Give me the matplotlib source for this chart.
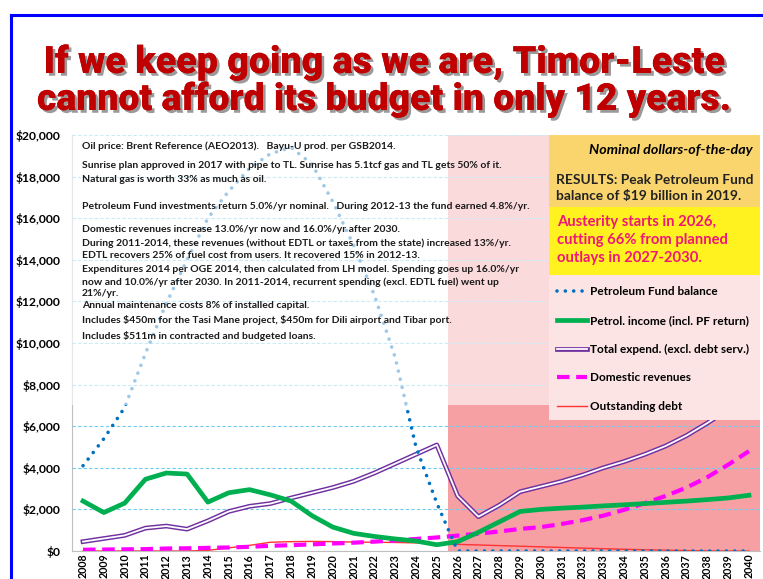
import matplotlib
matplotlib.use("Agg")
import matplotlib.pyplot as plt
import matplotlib.patheffects as pe
from matplotlib.patches import Rectangle
from matplotlib.lines import Line2D
from matplotlib.ticker import FuncFormatter, MultipleLocator

plt.rcParams["text.parse_math"] = False

years = list(range(2008, 2041))

pf_balance = [4100, 5400, 6900, 9500, 11900, 14000, 16000, 17300, 18400, 19100, 19400, 18600,
              16800, 14700, 12300, 9300, 5000, 2300, 0, 0, 0, 0, 0, 0,
              0, 0, 0, 0, 0, 0, 0, 0, 0]
petrol_income = [2400, 1850, 2300, 3450, 3750, 3700, 2350, 2800, 2950, 2700, 2400, 1700,
                 1150, 850, 700, 580, 480, 300, 450, 900, 1400, 1900, 2000, 2060,
                 2110, 2170, 2220, 2280, 2340, 2400, 2470, 2550, 2680]
total_expend = [450, 600, 750, 1100, 1200, 1050, 1450, 1900, 2150, 2280, 2550, 2800,
                3050, 3350, 3750, 4200, 4650, 5100, 2650, 1650, 2200, 2850, 3100, 3350,
                3650, 4000, 4300, 4650, 5050, 5550, 6150, 6800, 7450]
domestic_rev = [60, 70, 80, 90, 120, 130, 150, 170, 200, 250, 280, 320,
                360, 400, 450, 510, 580, 650, 740, 830, 940, 1060, 1150, 1300,
                1480, 1700, 1980, 2300, 2650, 3050, 3550, 4150, 4800]
debt = [0, 0, 0, 0, 0, 0, 30, 150, 270, 420, 450, 460,
        450, 430, 420, 410, 390, 350, 320, 290, 260, 230, 200, 170,
        140, 110, 85, 60, 40, 20, 10, 0, 0]

notes = [
    (146, "Oil price: Brent Reference (AEO2013).   Bayu-U prod. per GSB2014."),
    (166, "Sunrise plan approved in 2017 with pipe to TL. Sunrise has 5.1tcf gas and TL gets 50% of it."),
    (180, "Natural gas is worth 33% as much as oil."),
    (206, "Petroleum Fund investments return 5.0%/yr nominal.   During 2012-13 the fund earned 4.8%/yr."),
    (230, "Domestic revenues increase 13.0%/yr now and 16.0%/yr after 2030."),
    (243, "During 2011-2014, these revenues (without EDTL or taxes from the state) increased 13%/yr."),
    (255, "EDTL recovers 25% of fuel cost from users. It recovered 15% in 2012-13."),
    (270, "Expenditures 2014 per OGE 2014, then calculated from LH model. Spending goes up 16.0%/yr"),
    (282, "now and 10.0%/yr after 2030. In 2011-2014, recurrent spending (excl. EDTL fuel) went up"),
    (294, "21%/yr."),
    (305, "Annual maintenance costs 8% of installed capital."),
    (320, "Includes $450m for the Tasi Mane project, $450m for Dili airport and Tibar port."),
    (336, "Includes $511m in contracted and budgeted loans."),
]

W, H = 763, 579
fig = plt.figure(figsize=(W / 100, H / 100), dpi=100)
fig.patch.set_facecolor("white")

def fx(x):
    return x / W

def fy(y):
    return 1 - y / H

# blue frame
fig.add_artist(Line2D([fx(11), fx(11)], [fy(15), 0], color="#0000FF", lw=2.2))
fig.add_artist(Line2D([fx(11), 1], [fy(15), fy(15)], color="#0000FF", lw=2.2))

# title, sized to fit the width of the original
shadow = [pe.withSimplePatchShadow(offset=(2, -2), shadow_rgbFace="#707070", alpha=0.7), pe.Normal()]
renderer = fig.canvas.get_renderer()
for yy, txt, target in [(62, "If we keep going as we are, Timor-Leste", 682),
                        (100, "cannot afford its budget in only 12 years.", 695)]:
    t = fig.text(fx(384), fy(yy), txt, ha="center", va="center", fontsize=24,
                 fontweight="heavy", family="Roboto", color="#C00000", path_effects=shadow)
    w = t.get_window_extent(renderer).width
    t.set_fontsize(24 * target / w)

ax = fig.add_axes([fx(72), fy(551), (760 - 72) / W, (551 - 135) / H])
ax.set_xlim(2007.47, 2040.53)
ax.set_ylim(0, 20000)

# austerity shading
ax.add_patch(Rectangle((2025.54, 0), 2040.53 - 2025.54, 20000, facecolor="#F7A0A4",
                       edgecolor="none", zorder=0))

ax.yaxis.set_major_locator(MultipleLocator(2000))
ax.yaxis.set_major_formatter(FuncFormatter(lambda v, p: "${:,.0f}".format(v)))
ax.set_xticks(years)
ax.set_xticklabels([str(y) for y in years], rotation=90)
ax.grid(axis="y", color="#6FCBEF", ls=(0, (3, 2)), lw=0.8, zorder=1)
ax.set_axisbelow(False)
for s in ["top", "right"]:
    ax.spines[s].set_visible(False)
ax.spines["left"].set_color("#BFBFBF")
ax.spines["bottom"].set_color("#BFBFBF")
ax.tick_params(axis="y", length=0, pad=8)
ax.tick_params(axis="x", length=0, pad=2)
for lab in ax.get_yticklabels():
    lab.set_fontweight("bold")
    lab.set_fontsize(8.7)
    lab.set_family("Lato")
for lab in ax.get_xticklabels():
    lab.set_fontweight("bold")
    lab.set_fontsize(7.7)
    lab.set_family("Lato")

double = [pe.Stroke(linewidth=3.4, foreground="#7030A0"), pe.Stroke(linewidth=1.3, foreground="white")]

ax.plot(years, debt, color="#FF3333", lw=1.0, zorder=2)
ax.plot(years, domestic_rev, color="#FF00FF", lw=3, ls=(0, (3, 1.6)), zorder=3)
ax.plot(years, total_expend, color="#7030A0", lw=3.4, zorder=3, path_effects=double)
ax.plot(years, petrol_income, color="#00B050", lw=3.4, zorder=3)
ax.plot(years, pf_balance, color="#0070C0", lw=2.6, ls=(0, (0.01, 2.3)),
        dash_capstyle="round", zorder=3)

# faded overlay in upper part
ax.add_patch(Rectangle((2007.47, 7000), 2040.53 - 2007.47, 13000, facecolor="white",
                       alpha=0.62, edgecolor="none", zorder=4))

for y, t in notes:
    fig.text(fx(82), fy(y), t, ha="left", va="center", fontsize=7.5, fontweight="bold",
             family="Lato", color="#1a1a1a", zorder=6)

# right boxes
x0 = (549 - 72) / 688
ax.add_patch(Rectangle((x0, 1 - 72 / 416), 1 - x0, 72 / 416, transform=ax.transAxes,
                       facecolor="#FAD56E", edgecolor="none", zorder=5))
ax.add_patch(Rectangle((x0, 1 - 140 / 416), 1 - x0, 68 / 416, transform=ax.transAxes,
                       facecolor="#FFF21F", edgecolor="none", zorder=5))
ax.add_patch(Rectangle((x0, 1 - 285 / 416), 1 - x0, 145 / 416, transform=ax.transAxes,
                       facecolor="#FCE3E4", edgecolor="none", zorder=5))

fig.text(fx(753), fy(150), "Nominal dollars-of-the-day", ha="right", va="center",
         fontsize=10.3, fontweight="bold", fontstyle="italic", family="Lato", zorder=7)
fig.text(fx(556), fy(180), "RESULTS: Peak Petroleum Fund", ha="left", va="center",
         fontsize=9.9, fontweight="bold", family="Lato", color="#222222", zorder=7)
fig.text(fx(556), fy(196), "balance of $19 billion in 2019.", ha="left", va="center",
         fontsize=9.9, fontweight="bold", family="Lato", color="#222222", zorder=7)
for y, t in [(222, "Austerity starts in 2026,"), (240, "cutting 66% from planned"),
             (258, "outlays in 2027-2030.")]:
    fig.text(fx(557), fy(y), t, ha="left", va="center", fontsize=10.6, fontweight="bold",
             family="Lato", color="#F0167A", zorder=7)

h_pf = Line2D([], [], color="#0070C0", lw=2.6, ls=(0, (0.01, 2.3)), dash_capstyle="round")
h_pi = Line2D([], [], color="#00B050", lw=3.4)
h_te = Line2D([], [], color="#7030A0", lw=3.4, path_effects=double)
h_dr = Line2D([], [], color="#FF00FF", lw=3, ls=(0, (3, 1.6)))
h_db = Line2D([], [], color="#FF3333", lw=1.0)
leg = ax.legend([h_pf, h_pi, h_te, h_dr, h_db],
                ["Petroleum Fund balance", "Petrol. income (incl. PF return)",
                 "Total expend. (excl. debt serv.)", "Domestic revenues", "Outstanding debt"],
                loc="upper left", bbox_to_anchor=(x0, 1 - 143 / 416), frameon=False,
                prop={"family": "Lato", "weight": "bold", "size": 8.5},
                labelspacing=1.5, handlelength=2.5, handletextpad=0.3, borderaxespad=0.3)
leg.set_zorder(8)

fig.savefig("out.png", dpi=100)
